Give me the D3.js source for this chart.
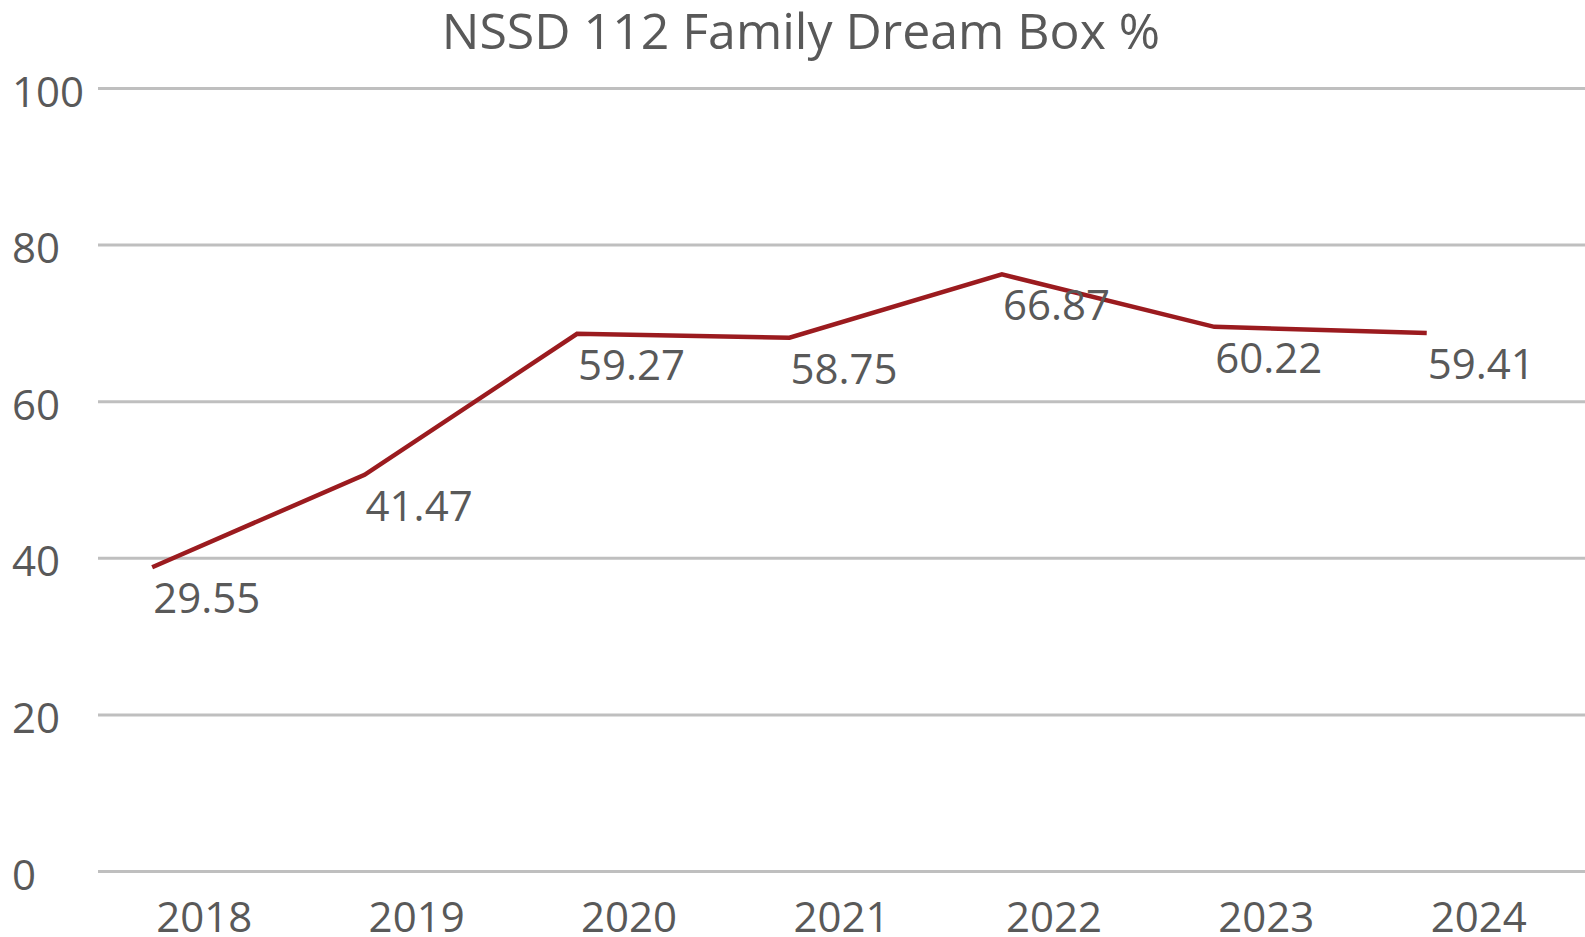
<!DOCTYPE html>
<html>
<head>
<meta charset="utf-8">
<script src="https://cdn.jsdelivr.net/npm/d3@7"></script>
<style>
  html, body { margin: 0; padding: 0; background: #fff; }
  svg { display: block; font-family: "Open Sans", sans-serif; }
</style>
</head>
<body>
<svg id="chart"></svg>
<script>
// data
const years = ['2018', '2019', '2020', '2021', '2022', '2023', '2024'];
const lineValues = [38.8, 50.6, 68.6, 68.1, 76.2, 69.5, 68.7]; // where the line sits
const labelValues = ['29.55', '41.47', '59.27', '58.75', '66.87', '60.22', '59.41']; // printed labels
const yTicks = [0, 20, 40, 60, 80, 100];
const title = 'NSSD 112 Family Dream Box %';

const width = 1585, height = 937;
const margin = { top: 88, right: 0, bottom: 66, left: 98 };
const textColor = '#595959';

const svg = d3.select('#chart')
  .attr('width', width)
  .attr('height', height);

const x = d3.scaleBand()
  .domain(years)
  .range([margin.left, width - margin.right]);

const y = d3.scaleLinear()
  .domain([0, 100])
  .range([height - margin.bottom, margin.top]);

// title
svg.append('text')
  .attr('x', 801)
  .attr('y', 49)
  .attr('text-anchor', 'middle')
  .attr('fill', textColor)
  .attr('font-size', 50)
  .text(title);

// gridlines + y labels
const yAxis = d3.axisLeft(y)
  .tickValues(yTicks)
  .tickSize(-(width - margin.left - margin.right))
  .tickFormat(d3.format('d'));

const gy = svg.append('g')
  .attr('transform', 'translate(' + margin.left + ',0)')
  .call(yAxis);
gy.select('.domain').remove();
gy.selectAll('.tick line')
  .attr('stroke', '#bfbfbf')
  .attr('stroke-width', 3);
gy.selectAll('.tick text')
  .attr('text-anchor', 'start')
  .attr('x', 12 - margin.left)
  .attr('dy', 18)
  .attr('fill', textColor)
  .attr('font-size', 42)
  .attr('font-family', '"Open Sans", sans-serif');

// x labels
const xAxis = d3.axisBottom(x).tickSize(0);
const gx = svg.append('g')
  .attr('transform', 'translate(0,' + (height - margin.bottom) + ')')
  .call(xAxis);
gx.select('.domain').remove();
gx.selectAll('.tick text')
  .attr('y', 0)
  .attr('dy', 61)
  .attr('fill', textColor)
  .attr('font-size', 42)
  .attr('font-family', '"Open Sans", sans-serif');

// line sits a quarter band in from each band start
const px = function (d, i) { return x(years[i]) + x.bandwidth() * 0.255; };

const line = d3.line()
  .x(px)
  .y(function (d) { return y(d); });

svg.append('path')
  .datum(lineValues)
  .attr('fill', 'none')
  .attr('stroke', '#9b1b1f')
  .attr('stroke-width', 4.5)
  .attr('stroke-linejoin', 'miter')
  .attr('d', line);

// value labels
svg.selectAll('.val')
  .data(lineValues)
  .enter()
  .append('text')
  .attr('class', 'val')
  .attr('x', function (d, i) { return px(d, i) + 1; })
  .attr('y', function (d) { return y(d) + 46; })
  .attr('fill', textColor)
  .attr('font-size', 42)
  .text(function (d, i) { return labelValues[i]; });
</script>
</body>
</html>
